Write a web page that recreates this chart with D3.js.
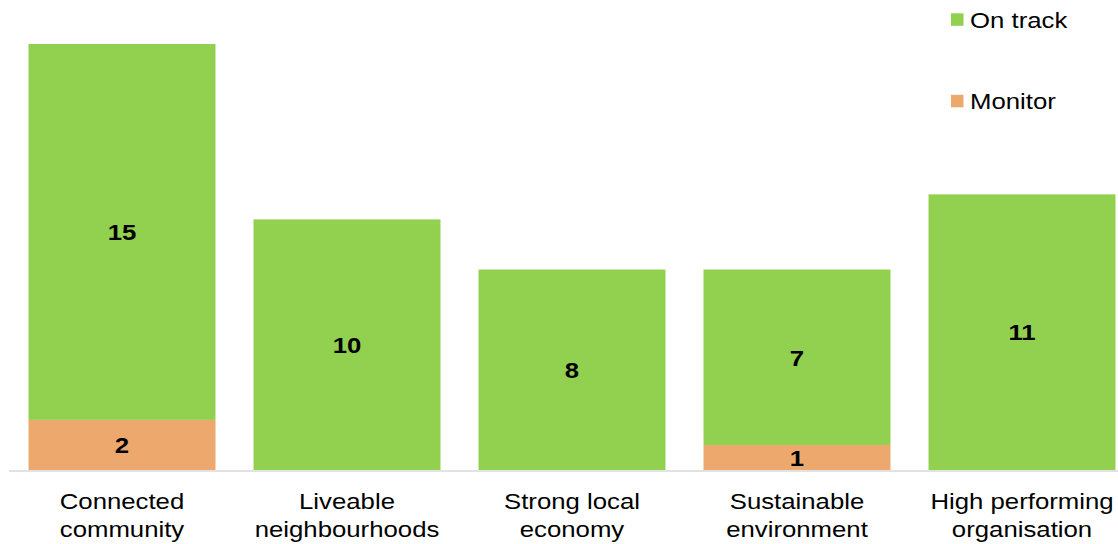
<!DOCTYPE html>
<html>
<head>
<meta charset="utf-8">
<script src="https://cdn.jsdelivr.net/npm/d3@7/dist/d3.min.js"></script>
<style>
  html, body { margin: 0; padding: 0; background: #fff; }
  svg { display: block; font-family: "Liberation Sans", Arial, sans-serif; }
</style>
</head>
<body>
<svg id="chart" width="1118" height="544"></svg>
<script>
const categories = [
  ["Connected", "community"],
  ["Liveable", "neighbourhoods"],
  ["Strong local", "economy"],
  ["Sustainable", "environment"],
  ["High performing", "organisation"]
];
const seriesNames = ["Monitor", "On track"];
const monitorValues = [2, 0, 0, 1, 0];
const onTrackValues = [15, 10, 8, 7, 11];
const colors = { "Monitor": "#EDA86D", "On track": "#92D050" };

const svg = d3.select("#chart");
const SX = 1.12; // horizontal text stretch of the reference

const keys = categories.map(c => c.join(" "));
const rows = keys.map((k, i) => ({ key: k, "Monitor": monitorValues[i], "On track": onTrackValues[i] }));
const stacked = d3.stack().keys(seriesNames)(rows);

const x = d3.scaleBand().domain(keys).range([9.5, 1134.5]).paddingInner(0.169).paddingOuter(0.0845);
const y = d3.scaleLinear().domain([0, 17]).range([470, 44]);

// bars
const g = svg.append("g");
stacked.forEach(layer => {
  g.selectAll(null).data(layer).enter().append("rect")
    .attr("x", d => x(d.data.key))
    .attr("width", x.bandwidth())
    .attr("y", d => y(d[1]))
    .attr("height", d => y(d[0]) - y(d[1]))
    .attr("fill", colors[layer.key]);
});

// axis line
svg.append("line")
  .attr("x1", 9).attr("x2", 1118)
  .attr("y1", y(0) + 1).attr("y2", y(0) + 1)
  .attr("stroke", "#D9D9D9").attr("stroke-width", 1.5);

function stretchedText(parent, tx, ty, str, size, weight, anchor) {
  return parent.append("text")
    .attr("transform", `translate(${tx},${ty}) scale(${SX},1)`)
    .attr("text-anchor", anchor)
    .attr("font-size", size)
    .attr("font-weight", weight)
    .attr("fill", "#000")
    .text(str);
}

// value labels
stacked.forEach(layer => {
  layer.forEach(d => {
    const v = d[1] - d[0];
    if (v <= 0) return;
    const cx = x(d.data.key) + x.bandwidth() / 2;
    const cy = (y(d[0]) + y(d[1])) / 2;
    stretchedText(svg, cx, cy + 8.3, v, 23, "bold", "middle");
  });
});

// category labels
categories.forEach((lines, i) => {
  const cx = x(keys[i]) + x.bandwidth() / 2;
  lines.forEach((ln, j) => {
    stretchedText(svg, cx, 509 + j * 28, ln, 23, "normal", "middle");
  });
});

// legend
const legendItems = ["On track", "Monitor"];
const legendY = [19.5, 101];
legendItems.forEach((name, i) => {
  svg.append("rect")
    .attr("x", 951).attr("y", legendY[i] - 6.2)
    .attr("width", 12.5).attr("height", 12.5)
    .attr("fill", colors[name]);
  stretchedText(svg, 970, legendY[i] + 8.2, name, 23, "normal", "start");
});
</script>
</body>
</html>
